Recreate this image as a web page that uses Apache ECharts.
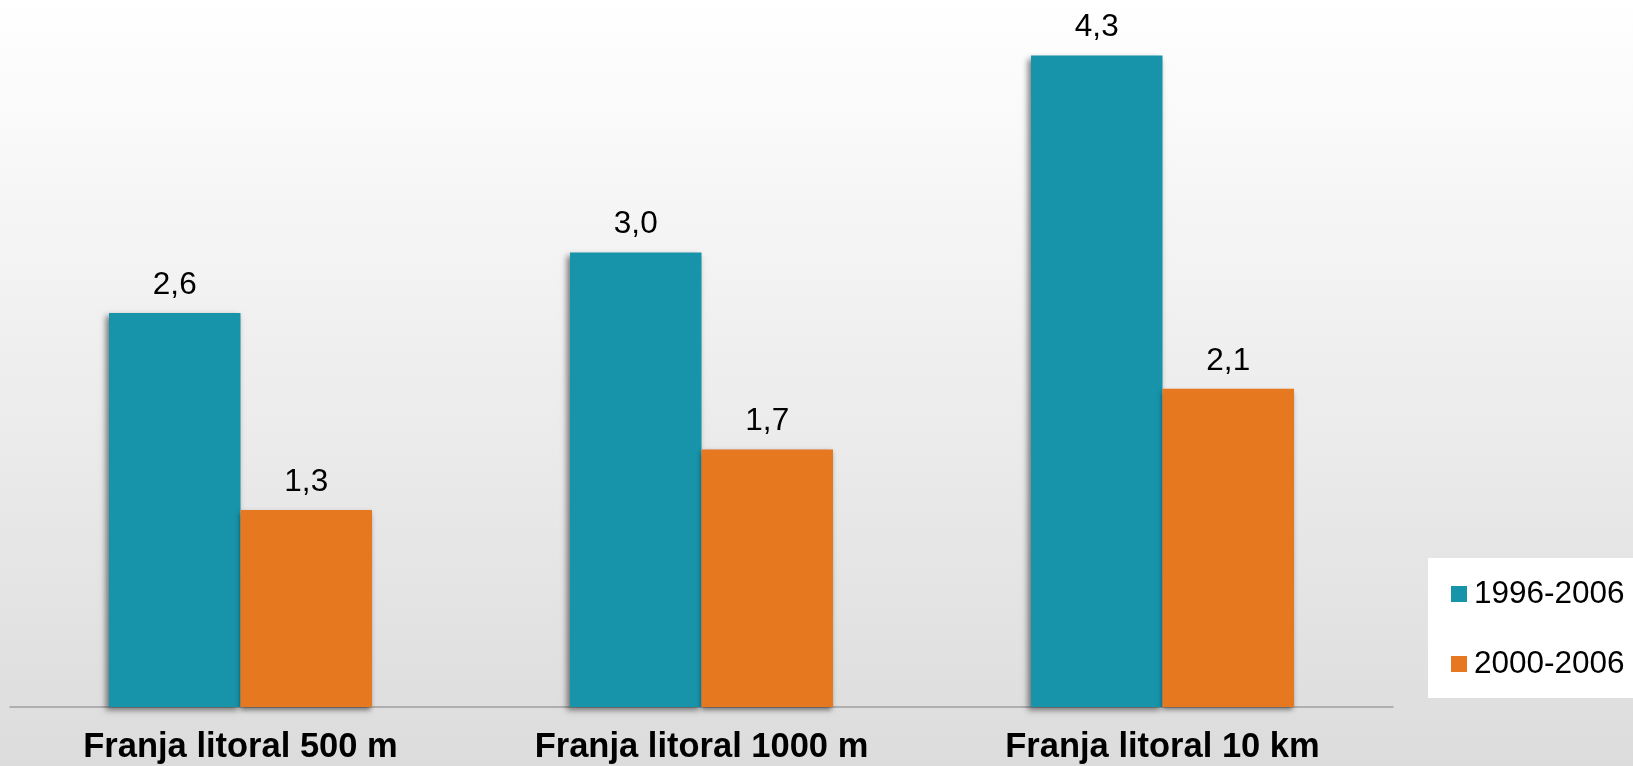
<!DOCTYPE html>
<html>
<head>
<meta charset="utf-8">
<script src="https://cdn.jsdelivr.net/npm/echarts@6/dist/echarts.min.js"></script>
<style>
html,body{margin:0;padding:0;}
#chart{width:1633px;height:766px;}
</style>
</head>
<body>
<div id="chart"></div>
<script>
const categories = ['Franja litoral 500 m', 'Franja litoral 1000 m', 'Franja litoral 10 km'];
const seriesNames = ['1996-2006', '2000-2006'];
const values1996 = [2.6, 3.0, 4.3];
const values2000 = [1.3, 1.7, 2.1];

const chart = echarts.init(document.getElementById('chart'));
const fmt = p => p.value.toFixed(1).replace('.', ',');
const labelStyle = {
  show: true, position: 'top', distance: 12,
  formatter: fmt, color: '#000', fontSize: 31.5,
  fontFamily: 'Liberation Sans, Arial, sans-serif'
};
chart.setOption({
  backgroundColor: new echarts.graphic.LinearGradient(0, 0, 0, 1, [
    {offset: 0, color: '#ffffff'},
    {offset: 1, color: '#dcdcdc'}
  ]),
  animation: false,
  grid: {left: 10, right: 240, top: 707 - 4.5 * 151.5, bottom: 59},
  legend: {
    orient: 'vertical', left: 1428, top: 558,
    backgroundColor: '#ffffff',
    padding: [20, 40, 18, 23],
    itemWidth: 16, itemHeight: 16, itemGap: 38,
    icon: 'rect',
    textStyle: {fontSize: 31.5, color: '#000', fontFamily: 'Liberation Sans, Arial, sans-serif', padding: [0, 0, 0, 2]},
    data: seriesNames
  },
  xAxis: {
    type: 'category', data: categories,
    axisLine: {lineStyle: {color: '#a0a0a0', width: 1.5}},
    axisTick: {show: false},
    axisLabel: {
      margin: 23, fontSize: 34.5, fontWeight: 'bold', color: '#000',
      fontFamily: 'Liberation Sans, Arial, sans-serif', interval: 0
    }
  },
  yAxis: {type: 'value', min: 0, max: 4.5, show: false, splitLine: {show: false}},
  series: [
    {
      name: seriesNames[0], type: 'bar', data: values1996,
      barWidth: 131.5, barGap: '0%',
      itemStyle: {color: '#1793aa', shadowColor: 'rgba(0,0,0,0.5)', shadowBlur: 6, shadowOffsetX: -3, shadowOffsetY: 3},
      label: labelStyle
    },
    {
      name: seriesNames[1], type: 'bar', data: values2000,
      barWidth: 131.5, barGap: '0%',
      itemStyle: {color: '#e67920', shadowColor: 'rgba(0,0,0,0.5)', shadowBlur: 5, shadowOffsetX: -1, shadowOffsetY: 3},
      label: labelStyle
    }
  ]
});
</script>
</body>
</html>
